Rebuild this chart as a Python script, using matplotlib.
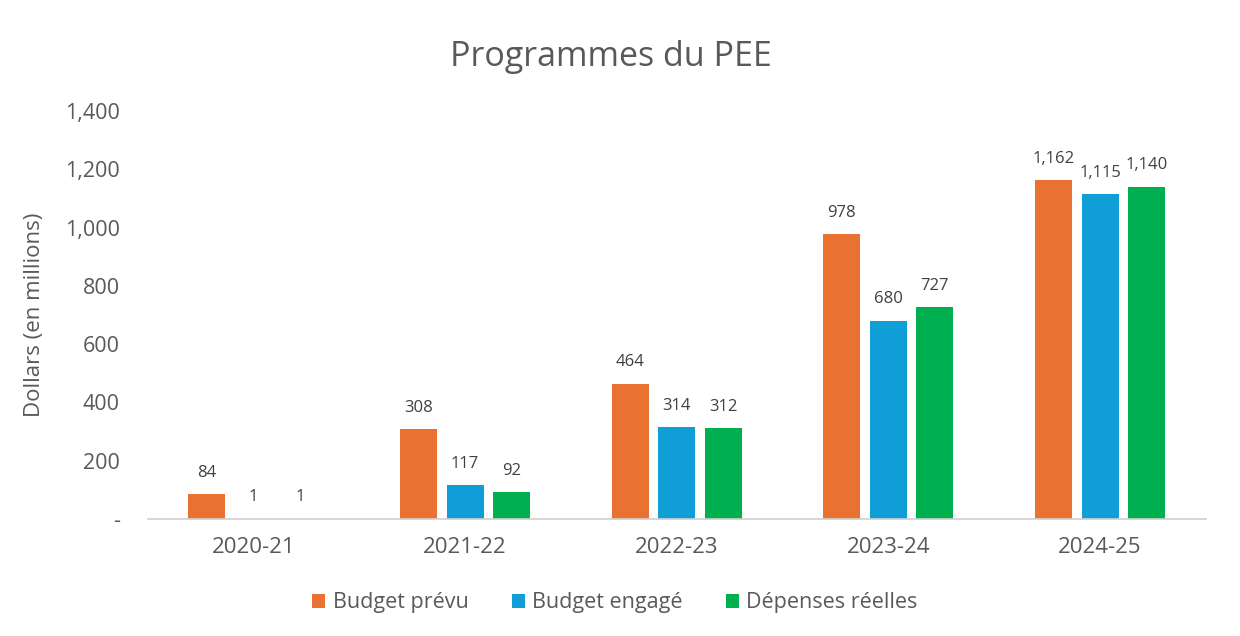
import matplotlib
matplotlib.use("Agg")
import matplotlib.pyplot as plt
import numpy as np

categories = ["2020-21", "2021-22", "2022-23", "2023-24", "2024-25"]
budget_prevu = [84, 308, 464, 978, 1162]
budget_engage = [1, 117, 314, 680, 1115]
depenses_reelles = [1, 92, 312, 727, 1140]
series_names = ["Budget prévu", "Budget engagé", "Dépenses réelles"]
colors = ["#E97132", "#0F9ED5", "#00B050"]
yticks = [0, 200, 400, 600, 800, 1000, 1200, 1400]

plt.rcParams['font.family'] = ['Open Sans', 'DejaVu Sans']
text_color = "#595959"

fig = plt.figure(figsize=(12.4, 6.36), dpi=100)
ax = fig.add_axes([0.119, 0.184, 0.8535, 0.6415])

x = np.arange(len(categories))
width = 0.175
offset = 0.22
for i, (vals, name, c) in enumerate(zip([budget_prevu, budget_engage, depenses_reelles], series_names, colors)):
    pos = x + (i - 1) * offset
    ax.bar(pos, vals, width=width, color=c, label=name)
    for p, v in zip(pos, vals):
        ax.annotate(f"{v:,}", (p, v), xytext=(0, 12.5), textcoords="offset points",
                    ha="center", va="baseline", fontsize=12, color="#404040")

ax.set_xlim(-0.5, len(categories) - 0.5)
ax.set_ylim(0, 1400)
ax.set_yticks(yticks)
ax.set_yticklabels(["-" if t == 0 else f"{t:,}" for t in yticks])
ax.set_xticks(x)
ax.set_xticklabels(categories)
ax.tick_params(axis="y", length=0, labelsize=15.5, colors=text_color, pad=20)
ax.tick_params(axis="x", length=0, labelsize=16, colors=text_color, pad=13)
for s in ["top", "right", "left"]:
    ax.spines[s].set_visible(False)
ax.spines["bottom"].set_color("#D0D0D0")
ax.spines["bottom"].set_linewidth(1.2)

ax.set_ylabel("Dollars (en millions)", fontsize=16, color=text_color, labelpad=14)
fig.text(0.493, 0.91, "Programmes du PEE", ha="center", va="center", fontsize=24.5, color=text_color)

leg = fig.legend(loc="center", bbox_to_anchor=(0.496, 0.052), ncol=3, frameon=False,
                 fontsize=15.5, handlelength=0.6, handleheight=0.6, handletextpad=0.35, columnspacing=2.0)
for t in leg.get_texts():
    t.set_color(text_color)

fig.savefig("out.png", dpi=100)
